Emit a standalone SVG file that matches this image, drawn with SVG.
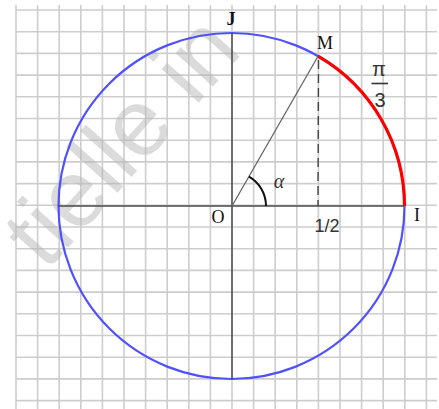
<svg xmlns="http://www.w3.org/2000/svg" width="439" height="409" viewBox="0 0 439 409">
<style>
.grid{stroke:#cdcdcd;stroke-width:1.6;fill:none}
.wm{font-family:"Liberation Sans",Arial,sans-serif;font-size:95px;fill:#b8b8b8;opacity:0.5}
.axis{stroke:#4a4a4a;stroke-width:1.5;fill:none}
.ray{stroke:#666;stroke-width:1.3;fill:none}
.dash{stroke:#444;stroke-width:1.4;stroke-dasharray:9 5;fill:none}
.lbl{font-family:"Liberation Serif","Times New Roman",serif;font-size:18px;fill:#111;text-anchor:middle}
.hand{font-family:"Liberation Sans",Arial,sans-serif;fill:#333;text-anchor:middle}
</style>
<rect width="439" height="409" fill="#fff"/>
<g id="grid" class="grid">
<path d="M16 5V409M37.6 5V409M59.2 5V409M80.8 5V409M102.4 5V409M124 5V409M145.6 5V409M167.2 5V409M188.8 5V409M210.4 5V409M232 5V409M253.6 5V409M275.2 5V409M296.8 5V409M318.4 5V409M340 5V409M361.6 5V409M383.2 5V409M404.8 5V409M426.4 5V409"/>
<path d="M16 10H437M16 31.7H437M16 53.4H437M16 75.1H437M16 96.8H437M16 118.5H437M16 140.2H437M16 161.9H437M16 183.6H437M16 205.3H437M16 227H437M16 248.7H437M16 270.4H437M16 292.1H437M16 313.8H437M16 335.5H437M16 357.2H437M16 378.9H437M16 400.6H437"/>
</g>
<text class="wm" transform="translate(46 272) rotate(-48)">tielle in</text>
<g id="circle">
<circle cx="231.5" cy="206" r="173" fill="none" stroke="#5050ff" stroke-width="2.2"/>
<path d="M404.5 206A173 173 0 0 0 318 56.2" fill="none" stroke="#ff0000" stroke-width="3.2"/>
</g>
<g id="connectors">
<line class="axis" x1="58.5" y1="206" x2="404.5" y2="206"/>
<line class="axis" x1="232" y1="33" x2="232" y2="379"/>
<line class="ray" x1="232" y1="206" x2="318" y2="56.2"/>
<line class="dash" x1="318.5" y1="60" x2="318" y2="206"/>
<path d="M266 206A34 34 0 0 0 249 176.6" fill="none" stroke="#111" stroke-width="2"/>
</g>
<g id="O"><text class="lbl" x="218" y="223">O</text></g>
<g id="I"><text class="lbl" x="417" y="221">I</text></g>
<g id="J"><text class="lbl" x="231" y="25" style="font-size:18px;font-weight:bold">J</text></g>
<g id="M"><text class="lbl" x="325" y="49">M</text></g>
<g id="alpha"><text class="lbl" x="279" y="188" style="font-size:20px;font-style:italic;fill:#333">α</text></g>
<g id="half"><text class="hand" x="327" y="232" style="font-size:18px">1/2</text></g>
<g id="pi3">
<text class="hand" x="379" y="76" style="font-size:20px">π</text>
<line x1="371.5" y1="83.5" x2="388" y2="83.5" stroke="#333" stroke-width="1.6"/>
<text class="hand" x="380" y="107" style="font-size:20px">3</text>
</g>
</svg>
